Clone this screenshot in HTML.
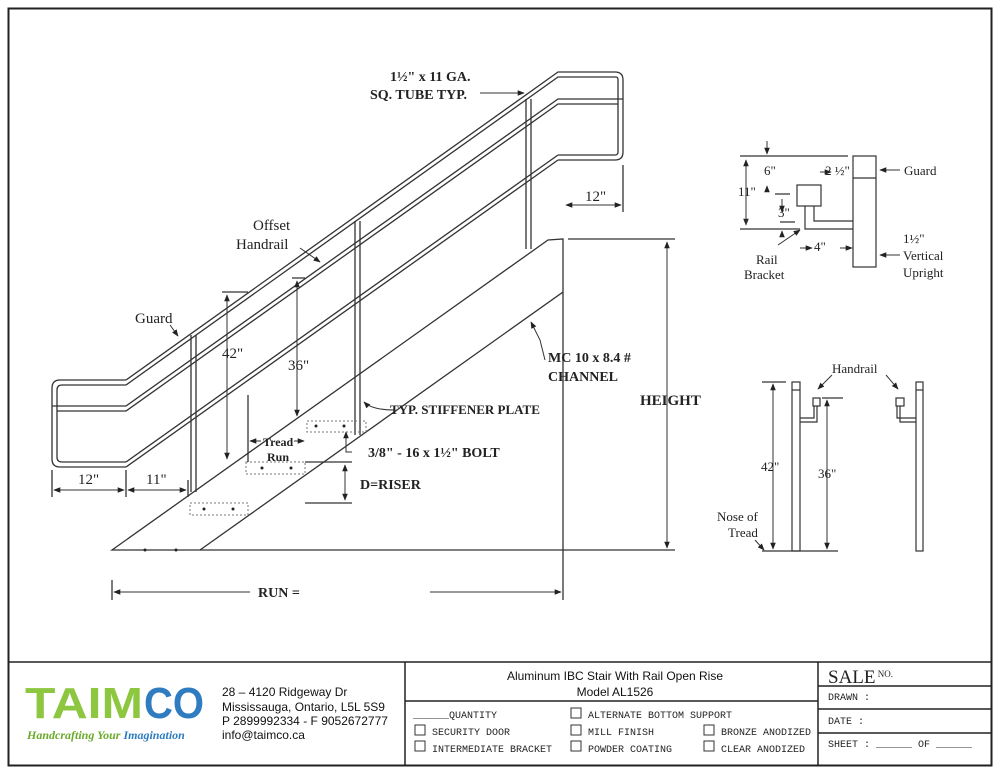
<!DOCTYPE html>
<html><head><meta charset="utf-8"><style>
html,body{margin:0;padding:0;background:#fff;}
svg{display:block;}
.s{font-family:"Liberation Serif",serif;fill:#222;}
.b{font-weight:bold;}
.m{font-family:"Liberation Mono",monospace;fill:#222;font-size:10px;}
</style></head><body>
<svg width="1000" height="773" viewBox="0 0 1000 773" xmlns="http://www.w3.org/2000/svg">
<defs>
<marker id="a" viewBox="0 0 10 10" refX="9" refY="5" markerWidth="7" markerHeight="7" orient="auto-start-reverse"><path d="M0,1 L10,5 L0,9 z" fill="#222"/></marker>
</defs>
<rect x="8.5" y="8.5" width="983" height="757" fill="none" stroke="#222" stroke-width="2"/>
<g fill="none" stroke="#333" stroke-width="1.3">
<path d="M126,380 L558,72 L615,72 Q623,72 623,80 L623,152 Q623,160 615,160 L558,160"/>
<path d="M126,385 L558,77 L616,77 Q618,77 618,80 L618,152 Q618,155 615,155 L558,155"/>
<path d="M126,380 L60,380 Q52,380 52,388 L52,459 Q52,467 60,467 L126,467"/>
<path d="M126,385 L62,385 Q57,385 57,390 L57,457 Q57,462 62,462 L126,462"/>
<path d="M52,406 L126,406 L558,99 L623,99"/>
<path d="M57,411 L126,411 L558,104 L618,104"/>
<path d="M126,467 L558,160"/>
<path d="M126,462 L558,155"/>
<path d="M191,335 V492 M196,335 V492"/>
<path d="M355,221 V435 M360,221 V435"/>
<path d="M526,99 V249 M531,99 V249"/>
<path d="M112,550 L548,240 L563,239 L563,292 L200,550 Z"/>
<path d="M200,550 L675,550"/>
<g stroke-dasharray="2,2" stroke="#777" stroke-width="1"><rect x="190" y="503" width="58" height="12"/><rect x="246" y="462" width="59" height="12"/><rect x="307" y="421" width="59" height="11"/></g>
<path d="M563,292 V600 M568,239 H675" />
<path d="M52,470 V497 M126,470 V497 M188,480 V497 M623,165 V212"/>
<path d="M222,292 H248 M292,278 H305 M248,395 V462 M305,462 H352 M305,503 H352"/>
<path d="M112,580 V600"/>
</g>
<g stroke="#333" stroke-width="1" fill="none" marker-end="url(#a)" marker-start="url(#a)">
<path d="M667,242 V548"/>
<path d="M54,490 H124"/><path d="M128,490 H186"/>
<path d="M566,205 H621"/>
<path d="M227,295 V459"/><path d="M297,281 V416"/>
<path d="M345,465 V500"/>
</g>
<g stroke="#333" stroke-width="1" fill="none" marker-end="url(#a)">
<path d="M250,592 H114"/><path d="M430,592 H561"/>
<path d="M261,441 H250"/><path d="M294,441 H304"/>
<path d="M480,93 H524"/>
<path d="M300,248 L320,262"/>
<path d="M170,325 L178,336"/>
<path d="M352,452 H346 V432"/>
<path d="M395,410 Q372,410 364,402"/>
<path d="M545,360 L540,340 L531,322"/>
</g>
<g fill="#222"><circle cx="204" cy="509" r="1.5"/><circle cx="233" cy="509" r="1.5"/><circle cx="262" cy="468" r="1.5"/><circle cx="291" cy="468" r="1.5"/><circle cx="316" cy="426" r="1.5"/><circle cx="344" cy="426" r="1.5"/><circle cx="145" cy="550" r="1.5"/><circle cx="176" cy="550" r="1.5"/></g>
<g class="s b" font-size="14">
<text x="390" y="81">1½" x 11 GA.</text>
<text x="370" y="99">SQ. TUBE TYP.</text>
<text x="548" y="362">MC 10 x 8.4 #</text>
<text x="548" y="381">CHANNEL</text>
<text x="640" y="405" font-size="15">HEIGHT</text>
<text x="390" y="414" font-size="13">TYP. STIFFENER PLATE</text>
<text x="368" y="457">3/8" - 16 x 1½" BOLT</text>
<text x="360" y="489">D=RISER</text>
<text x="258" y="597">RUN =</text>
</g>
<g class="s" font-size="15">
<text x="253" y="230">Offset</text>
<text x="236" y="249">Handrail</text>
<text x="135" y="323">Guard</text>
<text x="222" y="358">42"</text>
<text x="288" y="370">36"</text>
<text x="78" y="484">12"</text>
<text x="146" y="484">11"</text>
<text x="585" y="201">12"</text>
<text x="263" y="446" font-size="12" font-weight="bold">Tread</text>
<text x="267" y="461" font-size="12" font-weight="bold">Run</text>
</g>
<g fill="none" stroke="#333" stroke-width="1.2">
<rect x="853" y="156" width="23" height="111"/><path d="M853,178 H876"/>
<rect x="797" y="185" width="24" height="21"/>
<path d="M805,206 V229 H853 M814,206 V221 H853"/>
<path d="M740,156 H848 M740,229 H800 M775,194 H790 M780,222 H795"/>
</g>
<g stroke="#333" stroke-width="1" fill="none" marker-end="url(#a)">
<path d="M746,160 V225"/><path d="M746,225 V160"/>
<path d="M767,141 V154"/><path d="M820,172 H831"/>
<path d="M782,199 V212"/><path d="M782,236 V231"/><path d="M767,190 V186"/>
<path d="M800,248 H812"/><path d="M840,248 H852"/>
<path d="M900,170 H880"/><path d="M900,255 H880"/>
<path d="M778,245 L800,230"/>
</g>
<g class="s" font-size="13">
<text x="764" y="175">6"</text><text x="825" y="175">2 ½"</text>
<text x="904" y="175">Guard</text>
<text x="738" y="196">11"</text>
<text x="778" y="217">3"</text>
<text x="814" y="251">4"</text>
<text x="903" y="243">1½"</text><text x="903" y="260">Vertical</text><text x="903" y="277">Upright</text>
<text x="756" y="264">Rail</text><text x="744" y="279">Bracket</text>
</g>
<g fill="none" stroke="#333" stroke-width="1.2">
<rect x="792" y="382" width="8" height="169"/><path d="M792,390 H800"/>
<rect x="916" y="382" width="7" height="169"/><path d="M916,390 H923"/>
<rect x="813" y="398" width="7" height="8"/><rect x="896" y="398" width="8" height="8"/>
<path d="M817,406 V422 H800 M814,406 V418 H800 M900,406 V422 H916 M897,406 V418 H916"/>
<path d="M762,551 H838 M762,382 H786 M822,398 H843"/>
</g>
<g stroke="#333" stroke-width="1" fill="none" marker-end="url(#a)">
<path d="M773,445 V549"/><path d="M773,445 V384"/>
<path d="M827,455 V549"/><path d="M827,455 V400"/>
<path d="M832,375 L818,389"/><path d="M886,375 L898,389"/>
<path d="M755,540 L764,550"/>
</g>
<g class="s" font-size="13">
<text x="832" y="373">Handrail</text>
<text x="761" y="471">42"</text><text x="818" y="478">36"</text>
<text x="717" y="521">Nose of</text><text x="728" y="537">Tread</text>
</g>
<g fill="none" stroke="#222" stroke-width="1.5">
<path d="M8,662 H992 M405,662 V766 M818,662 V766 M405,701 H818 M818,686 H992 M818,709 H992 M818,733 H992"/>
</g>
<text x="25" y="718" font-family="Liberation Sans,sans-serif" font-weight="bold" font-size="44" textLength="118" lengthAdjust="spacingAndGlyphs" fill="#8dc63f">TAIM</text>
<text x="144" y="718" font-family="Liberation Sans,sans-serif" font-weight="bold" font-size="44" textLength="60" lengthAdjust="spacingAndGlyphs" fill="#2f7cc1">CO</text>
<text x="27" y="739" font-family="Liberation Serif,serif" font-style="italic" font-weight="bold" font-size="12" fill="#6aaa2a">Handcrafting Your <tspan fill="#2f7cc1">Imagination</tspan></text>
<g font-family="Liberation Sans,sans-serif" font-size="12" fill="#111">
<text x="222" y="696">28 – 4120 Ridgeway Dr</text>
<text x="222" y="711">Mississauga, Ontario, L5L 5S9</text>
<text x="222" y="725">P 2899992334 - F 9052672777</text>
<text x="222" y="739">info@taimco.ca</text>
<text x="615" y="680" text-anchor="middle">Aluminum IBC  Stair With Rail Open Rise</text>
<text x="615" y="696" text-anchor="middle">Model AL1526</text>
</g>
<g class="m">
<text x="413" y="718">______QUANTITY</text>
<text x="432" y="735">SECURITY DOOR</text>
<text x="432" y="752">INTERMEDIATE BRACKET</text>
<text x="588" y="718">ALTERNATE BOTTOM SUPPORT</text>
<text x="588" y="735">MILL FINISH</text>
<text x="588" y="752">POWDER COATING</text>
<text x="721" y="735">BRONZE ANODIZED</text>
<text x="721" y="752">CLEAR ANODIZED</text>
<text x="828" y="700">DRAWN :</text>
<text x="828" y="724">DATE :</text>
<text x="828" y="747">SHEET :   ______  OF ______</text>
</g>
<g fill="none" stroke="#333" stroke-width="1">
<rect x="415" y="725" width="10" height="10"/><rect x="415" y="741" width="10" height="10"/>
<rect x="571" y="708" width="10" height="10"/><rect x="571" y="725" width="10" height="10"/><rect x="571" y="741" width="10" height="10"/>
<rect x="704" y="725" width="10" height="10"/><rect x="704" y="741" width="10" height="10"/>
</g>
<text x="828" y="683" font-family="Liberation Serif,serif" font-size="19" fill="#222">SALE<tspan font-size="9" dy="-6"> NO.</tspan></text>
</svg>
</body></html>
